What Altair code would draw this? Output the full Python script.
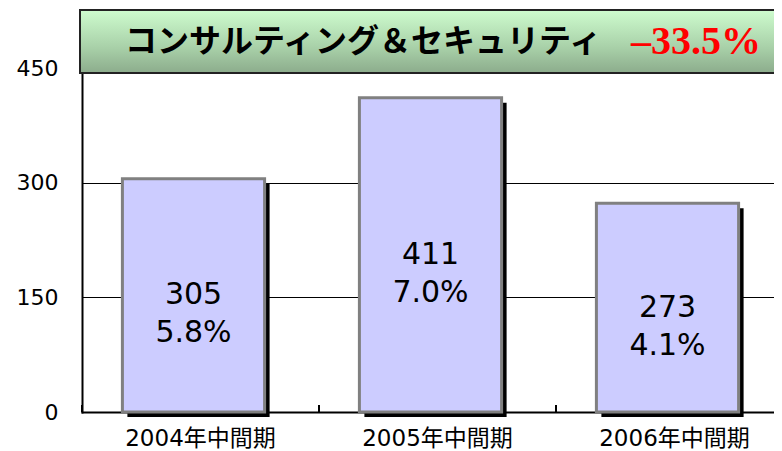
import altair as alt
import pandas as pd

periods = ["2004年中間期", "2005年中間期", "2006年中間期"]
values = [305, 411, 273]
shares = ["5.8%", "7.0%", "4.1%"]
title_main = "コンサルティング＆セキュリティ"
title_change = "–33.5%"

df = pd.DataFrame({
    "period": periods,
    "value": values,
    "share": shares,
})
df["label"] = df["value"].astype(str) + "\n" + df["share"]
df["mid"] = df["value"] / 2

W, H = 692, 344
xscale = alt.Scale(domain=periods, range=[0, 711], paddingInner=0.4, paddingOuter=0.2)
yscale = alt.Scale(domain=[0, 450], nice=False)

x_axis = alt.Axis(labelAngle=0)
y_axis = alt.Axis(values=[0, 150, 300, 450], grid=True)

base = alt.Chart(df)

x_enc = alt.X("period:N", scale=xscale, sort=periods, title=None, axis=x_axis)
y_enc = alt.Y("value:Q", scale=yscale, title=None, axis=y_axis)

shadow = base.mark_bar(color="black", xOffset=-2, x2Offset=-2, yOffset=5, y2Offset=2).encode(
    x=x_enc, y=y_enc)

bars = base.mark_bar(color="#CCCCFF", stroke="#808080", strokeWidth=3, xOffset=-7, x2Offset=-7).encode(
    x=x_enc, y=y_enc)

labels = base.mark_text(font="DejaVu Sans", fontSize=30, color="black", lineBreak="\n",
                        lineHeight=38, baseline="middle", align="center", xOffset=-7).encode(
    x=alt.X("period:N", scale=xscale, sort=periods, title=None, axis=x_axis),
    y=alt.Y("mid:Q", scale=yscale, title=None, axis=y_axis),
    text="label:N")

ticks = base.mark_rule(color="black", strokeWidth=2, xOffset=-47.4).encode(
    x=alt.X("period:N", scale=xscale, sort=periods, bandPosition=0, title=None, axis=x_axis),
    y=alt.datum(0), y2=alt.datum(9))

tdf = pd.DataFrame({"t": [title_main], "c": [title_change]})
tbase = alt.Chart(tdf)
tbox = tbase.mark_rect(
    color=alt.Gradient(gradient="linear", x1=0, x2=0, y1=0, y2=1,
                       stops=[alt.GradientStop(color="#CEFCCE", offset=0),
                              alt.GradientStop(color="#A8D0A8", offset=0.6),
                              alt.GradientStop(color="#8CAC8C", offset=1)]),
    stroke="#222222", strokeWidth=2).encode(
    x=alt.value(-2), x2=alt.value(720), y=alt.value(-58), y2=alt.value(5))
ttext = tbase.mark_text(font="Noto Sans CJK JP", fontWeight="bold", fontSize=32, color="black",
                        align="left", baseline="middle").encode(
    x=alt.value(43), y=alt.value(-26), text="t:N")
ctext = tbase.mark_text(font="Liberation Serif", fontWeight="bold", fontSize=40, color="#FF0000",
                        align="left", baseline="middle").encode(
    x=alt.value(549), y=alt.value(-26), text="c:N")

chart = alt.layer(shadow, bars, labels, ticks, tbox, ttext, ctext).properties(
    width=W, height=H,
    autosize=alt.AutoSizeParams(type="none"),
    padding={"left": 74, "top": 60, "right": 0, "bottom": 39},
).configure_view(stroke=None).configure_axis(
    domainCap="square", domainColor="black", domainWidth=2, ticks=False,
    labelColor="black", gridColor="black", gridWidth=1,
).configure_axisX(
    labelFont="DejaVu Sans, Noto Sans CJK JP", labelFontSize=23, labelPadding=15, grid=False,
).configure_axisY(
    labelFont="DejaVu Sans", labelFontSize=22, labelPadding=24,
)

chart.save("out.html", embed_options={"renderer": "svg", "actions": False})
